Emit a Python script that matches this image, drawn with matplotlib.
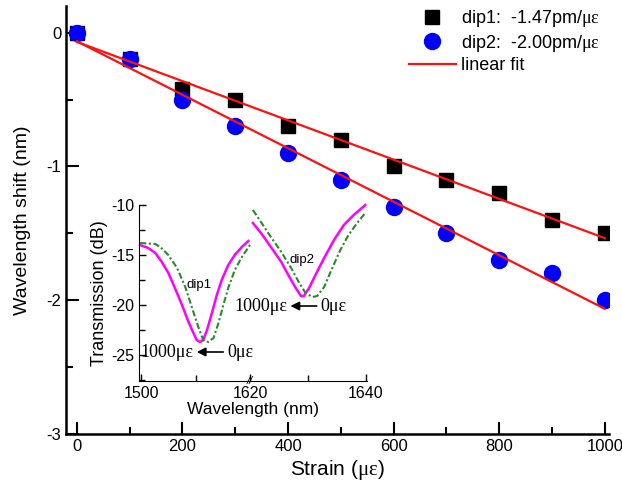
import numpy as np
import matplotlib.pyplot as plt
from matplotlib.ticker import MultipleLocator, FixedLocator

plt.rcParams["font.family"] = ["Liberation Sans", "DejaVu Sans"]
plt.rcParams["mathtext.fontset"] = "custom"
plt.rcParams["mathtext.rm"] = "Liberation Serif"
plt.rcParams["mathtext.it"] = "Liberation Serif:italic"
plt.rcParams["axes.unicode_minus"] = False

# Glavni graf: pomak talasne duzine vs. naprezanje
strain = [0, 100, 200, 300, 400, 500, 600, 700, 800, 900, 1000]
shift_dip1 = [0.0, -0.2, -0.42, -0.5, -0.7, -0.8, -1.0, -1.1, -1.2, -1.4, -1.5]
shift_dip2 = [0.0, -0.2, -0.5, -0.7, -0.9, -1.1, -1.3, -1.5, -1.7, -1.8, -2.0]

# Umetak: spektri (dip1 lijevo, dip2 desno)
wl_d1_1000 = [1499.8, 1501.3, 1502.6, 1503.8, 1505.0, 1506.2, 1507.5, 1508.7,
              1509.6, 1510.2, 1510.8, 1511.4, 1512.1, 1513.0, 1513.9, 1514.8,
              1516.0, 1517.2, 1518.5, 1519.7]
tr_d1_1000 = [-14.0, -14.3, -14.8, -15.7, -16.8, -18.3, -20.0, -21.7,
              -22.8, -23.5, -23.7, -23.5, -22.5, -20.8, -19.0, -17.5,
              -16.0, -15.0, -14.2, -13.6]
wl_d1_0 = [1499.8, 1502.6, 1503.5, 1505.0, 1506.6, 1508.1, 1509.3, 1510.5,
           1511.4, 1512.3, 1513.3, 1514.2, 1515.1, 1516.0, 1517.2, 1518.5,
           1520.0]
tr_d1_0 = [-13.8, -13.9, -14.2, -15.0, -16.3, -18.2, -20.2, -22.2,
           -23.5, -23.7, -23.3, -21.8, -20.0, -18.3, -16.5, -15.2,
           -14.0]
wl_d2_1000 = [1620.5, 1621.9, 1623.6, 1625.4, 1626.8, 1627.9, 1628.8, 1629.3,
              1630.2, 1631.3, 1632.8, 1634.5, 1636.2, 1637.9, 1639.9]
tr_d2_1000 = [-11.8, -12.8, -14.2, -15.7, -17.2, -18.3, -19.1, -19.1,
              -18.3, -17.0, -15.3, -13.5, -12.0, -11.0, -10.0]
wl_d2_0 = [1620.5, 1621.9, 1623.6, 1625.4, 1627.1, 1628.5, 1629.6, 1630.8,
           1631.6, 1632.8, 1634.2, 1635.6, 1637.0, 1638.5, 1639.9]
tr_d2_0 = [-10.5, -11.7, -13.2, -14.7, -16.3, -17.8, -18.8, -19.2,
           -19.1, -18.2, -16.3, -14.5, -13.0, -11.8, -10.8]

MU_EPS = r"$\mathrm{\mu\varepsilon}$"

fig = plt.figure(figsize=(6.22, 4.9), dpi=100)
ax = fig.add_axes([66 / 622, 56 / 490, 543 / 622, 428 / 490])

ax.plot(strain, shift_dip1, ls="none", marker="s", ms=10, color="black",
        label="dip1:  -1.47pm/" + MU_EPS, zorder=3)
ax.plot(strain, shift_dip2, ls="none", marker="o", ms=11.5, color="#0000ff",
        label="dip2:  -2.00pm/" + MU_EPS, zorder=4)

x_fit = np.array([0, 1000])
for i, y in enumerate([shift_dip1, shift_dip2]):
    k, n = np.polyfit(strain, y, 1)
    ax.plot(x_fit, k * x_fit + n, color="#ff1010", lw=1.6, zorder=5,
            label="linear fit" if i == 0 else None)

ax.set_xlim(-20.5, 1008)
ax.set_ylim(-3, 0.2)
ax.xaxis.set_major_locator(MultipleLocator(200))
ax.xaxis.set_minor_locator(MultipleLocator(100))
ax.yaxis.set_major_locator(MultipleLocator(1))
ax.yaxis.set_minor_locator(MultipleLocator(0.5))
ax.tick_params(which="both", direction="in", width=1.5, labelsize=12)
ax.tick_params(which="major", length=9)
ax.tick_params(which="minor", length=5)
for s in ["top", "right"]:
    ax.spines[s].set_visible(False)
for s in ["left", "bottom"]:
    ax.spines[s].set_linewidth(1.8)
ax.set_xlabel("Strain (" + MU_EPS + ")", fontsize=15, labelpad=3)
ax.set_ylabel("Wavelength shift (nm)", fontsize=14, labelpad=11)

ax.legend(loc="upper left", bbox_to_anchor=(409 / 622, 1 - 8 / 490),
          bbox_transform=fig.transFigure, frameon=False, fontsize=13,
          handlelength=2.6, handletextpad=0.3, labelspacing=0.2,
          borderpad=0, borderaxespad=0)

# Umetak s prekinutom x osom
axl = fig.add_axes([139 / 622, 109 / 490, 111 / 622, 176 / 490])
axr = fig.add_axes([250 / 622, 109 / 490, 117 / 622, 176 / 490])
for a in (axl, axr):
    a.set_facecolor("none")
    a.set_ylim(-27.6, -10)
    a.spines["top"].set_visible(False)
    a.spines["right"].set_visible(False)
    a.tick_params(which="both", direction="in", labelsize=11.5, width=1)
    a.tick_params(which="major", length=5)
    a.tick_params(which="minor", length=4)

dashdot = (0, (3, 1.2, 1, 1.2))
axl.plot(wl_d1_1000, tr_d1_1000, color="#ff00ff", lw=1.8, clip_on=False)
axl.plot(wl_d1_0, tr_d1_0, color="#2a8a2a", lw=1.5, ls=dashdot, clip_on=False)
axr.plot(wl_d2_1000, tr_d2_1000, color="#ff00ff", lw=1.8, clip_on=False)
axr.plot(wl_d2_0, tr_d2_0, color="#2a8a2a", lw=1.5, ls=dashdot, clip_on=False)

axl.set_xlim(1499.6, 1520)
axl.xaxis.set_major_locator(FixedLocator([1500]))
axl.xaxis.set_minor_locator(FixedLocator([1510]))
axl.yaxis.set_major_locator(MultipleLocator(5))
axl.yaxis.set_minor_locator(MultipleLocator(2.5))
axl.set_ylabel("Transmission (dB)", fontsize=13, labelpad=2)

axr.set_xlim(1620, 1640.2)
axr.xaxis.set_major_locator(FixedLocator([1620, 1640]))
axr.xaxis.set_minor_locator(FixedLocator([1630]))
axr.spines["left"].set_visible(False)
axr.tick_params(axis="y", which="both", left=False, labelleft=False)
axr.text(0, 0, "//", transform=axr.transAxes, ha="center", va="center",
         fontsize=8, style="italic")

fig.text(253 / 622, 1 - 409 / 490, "Wavelength (nm)", ha="center",
         va="center", fontsize=12.5)

axl.text(1510.7, -18.0, "dip1", ha="center", va="center", fontsize=9.5)
axr.text(1629.0, -15.5, "dip2", ha="center", va="center", fontsize=9.5)

serif = dict(fontfamily="Liberation Serif", fontsize=13, va="center")
arrow = dict(arrowstyle="-|>", color="black", lw=1.2, mutation_scale=13)
axl.text(1509.6, -24.7, "1000με", ha="right", **serif)
axl.annotate("", xy=(1509.7, -24.7), xytext=(1515.6, -24.7), arrowprops=arrow)
axl.text(1515.9, -24.7, "0με", ha="left", **serif)
axr.text(1626.4, -20.1, "1000με", ha="right", **serif)
axr.annotate("", xy=(1626.5, -20.1), xytext=(1632.0, -20.1), arrowprops=arrow)
axr.text(1632.2, -20.1, "0με", ha="left", **serif)

fig.savefig("out.png", dpi=100)
